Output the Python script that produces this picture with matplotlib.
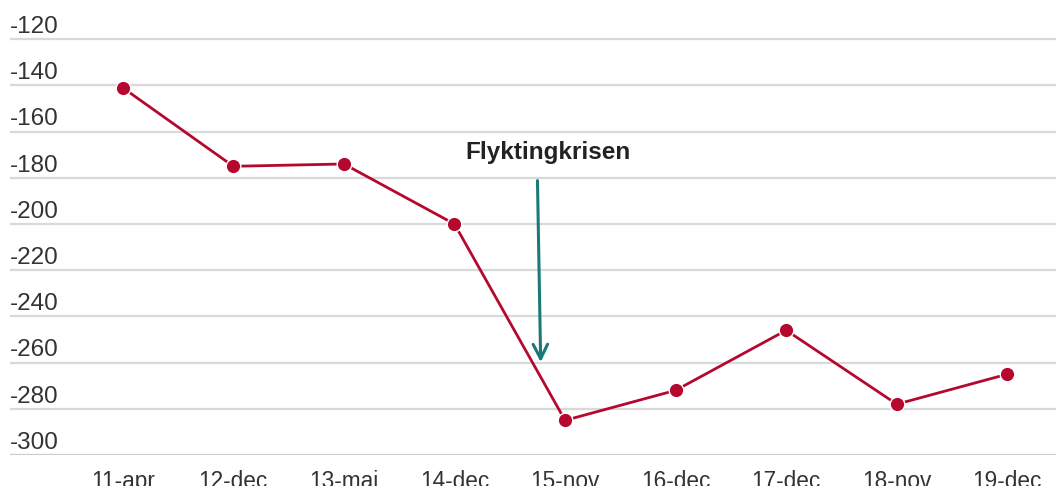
import matplotlib
matplotlib.use('Agg')
from matplotlib import pyplot as plt

plt.rcParams['font.family'] = ['Liberation Sans', 'DejaVu Sans']

kategorier = ['11-apr', '12-dec', '13-maj', '14-dec', '15-nov', '16-dec', '17-dec', '18-nov', '19-dec']
varden = [-141, -175, -174, -200, -285, -272, -246, -278, -265]
yticks = [-120, -140, -160, -180, -200, -220, -240, -260, -280, -300]

fig = plt.figure(figsize=(10.56, 4.86), dpi=100)
ax = fig.add_axes([10/1056, 1 - 455/486, 1 - 10/1056, 455/486])

x = list(range(len(kategorier)))
ax.plot(x, varden, color='#b5082e', lw=2.0, marker='o', markersize=10.5,
        markeredgecolor='white', markeredgewidth=1.0, zorder=3)

ax.set_xlim(-1.02, 8.44)
ax.set_ylim(-300, -103)

# rutnät med etiketter ovanför linjerna
for t in yticks:
    ax.axhline(t, color='#d9d9d9', lw=1.6, zorder=1)
    ax.text(0.0, t + 2.7, str(t), transform=ax.get_yaxis_transform(),
            ha='left', va='baseline', fontsize=17.5, color='#333333')
ax.axhline(-300, color='#cccccc', lw=2.2, zorder=1)

for s in ax.spines.values():
    s.set_visible(False)
ax.set_yticks([])
ax.set_xticks(x)
ax.set_xticklabels(kategorier, fontsize=16.3, color='#333333')
ax.tick_params(axis='x', length=0, pad=11)

ax.annotate('', xy=(3.78, -261), xytext=(3.75, -180),
            arrowprops=dict(arrowstyle='->', color='#1a7a78', lw=2.2,
                            mutation_scale=26))
ax.text(3.85, -169, 'Flyktingkrisen', ha='center', va='center',
        fontsize=17.5, fontweight='bold', color='#222222')

fig.savefig('out.png', dpi=100)
